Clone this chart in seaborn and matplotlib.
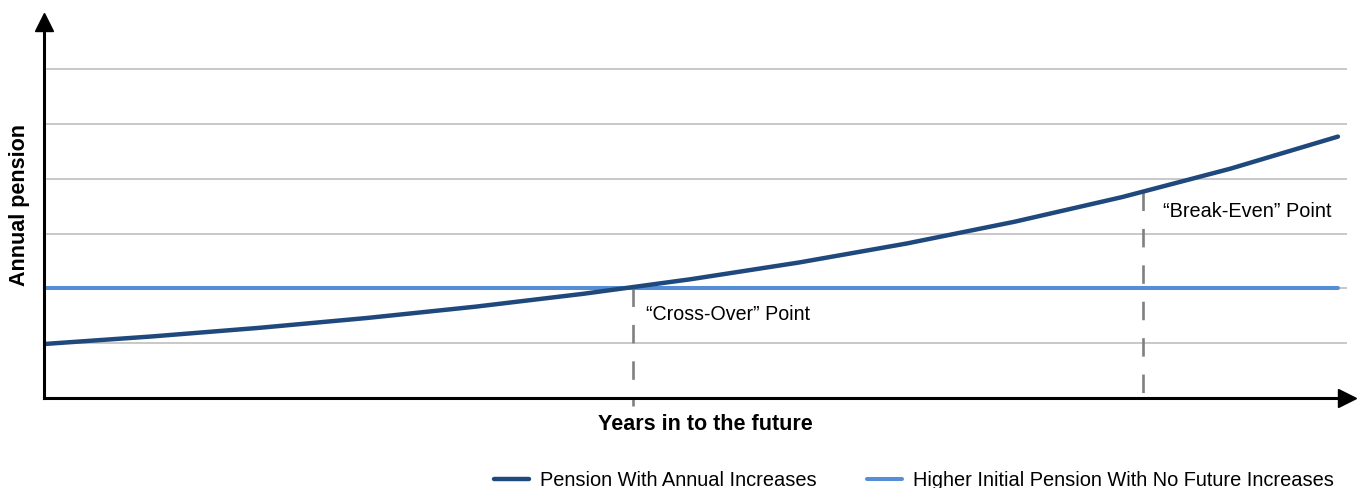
import matplotlib
matplotlib.use('Agg')
import matplotlib.pyplot as plt
import seaborn as sns

# values (x = years, y = pension in grid units)
years = [0, 2.5, 5, 7.5, 10, 12.5, 15, 17.5, 20, 22.5, 25, 27.5, 30]
pension_increasing = [0.985, 1.123, 1.281, 1.461, 1.666, 1.901, 2.168,
                      2.472, 2.819, 3.216, 3.667, 4.183, 4.770]
flat_years = [0, 30]
pension_flat = [2.0, 2.0]

crossover_year, crossover_value = 13.66, 2.0
breakeven_year, breakeven_value = 25.48, 3.763

grid_levels = [1, 2, 3, 4, 5, 6]

dark_blue = '#1F497D'
light_blue = '#558ED5'

sns.set_theme(style='white')
plt.rcParams['font.family'] = ['Liberation Sans', 'DejaVu Sans']
plt.rcParams['text.color'] = 'black'

fig, ax = plt.subplots(figsize=(13.57, 4.88), dpi=100)
fig.subplots_adjust(left=44 / 1357, right=1347 / 1357, bottom=90 / 488, top=1 - 22 / 488)

# dashed markers for cross-over / break-even
for xv, yv in [(crossover_year, crossover_value), (breakeven_year, breakeven_value)]:
    ax.plot([xv, xv], [yv, -0.15], color='#808080', lw=1.9,
            dashes=(7.0, 6.8), clip_on=False, zorder=2)

sns.lineplot(x=flat_years, y=pension_flat, color=light_blue, lw=2.9,
             label='Higher Initial Pension With No Future Increases', ax=ax, zorder=3)
sns.lineplot(x=years, y=pension_increasing, color=dark_blue, lw=3.2,
             label='Pension With Annual Increases', ax=ax, zorder=4)

ax.set_xlim(0, 30.21)
ax.set_ylim(0, 6.861)
ax.set_yticks(grid_levels)
ax.set_yticklabels([])
ax.set_xticks([])
ax.tick_params(length=0)
ax.grid(axis='y', color='#bfbfbf', lw=1.2)
ax.set_axisbelow(True)

for side in ['top', 'right']:
    ax.spines[side].set_visible(False)
for side in ['left', 'bottom']:
    ax.spines[side].set_color('black')
    ax.spines[side].set_linewidth(2.2)
    ax.spines[side].set_zorder(5)

# arrow heads on the axes
ax.plot(0, 1, '^', color='black', ms=13, transform=ax.transAxes, clip_on=False, zorder=6)
ax.plot(1, 0, '>', color='black', ms=13, transform=ax.transAxes, clip_on=False, zorder=6)

ax.text(13.96, 1.515, '\u201cCross-Over\u201d Point', fontsize=14.1, va='center', ha='left')
ax.text(25.94, 3.41, '\u201cBreak-Even\u201d Point', fontsize=14.3, va='center', ha='left')

fig.text(705 / 1357, 1 - 425 / 488, 'Years in to the future', fontsize=15.5,
         fontweight='bold', ha='center', va='center')
fig.text(20 / 1357, 1 - 205 / 488, 'Annual pension', fontsize=15.5,
         fontweight='bold', ha='center', va='center', rotation=90)

handles, labels = ax.get_legend_handles_labels()
ax.get_legend().remove()
order = [1, 0]
fig.legend([handles[i] for i in order], [labels[i] for i in order],
           loc='center left', bbox_to_anchor=(494 / 1357, 1 - 480 / 488),
           ncol=2, frameon=False, fontsize=14.4, borderpad=0, borderaxespad=0,
           handlelength=1.75, handletextpad=0.55, columnspacing=2.5)

fig.savefig('out.png', dpi=100)
